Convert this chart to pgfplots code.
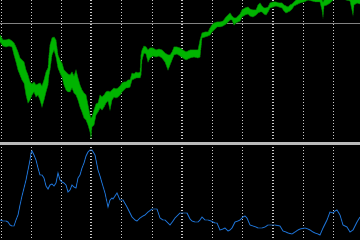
\documentclass[border=0pt]{standalone}
\usepackage{pgfplots}
\usepackage{pgfplotstable}
\pgfplotsset{compat=1.18}
\usepgfplotslibrary{fillbetween}
\definecolor{pgreen}{RGB}{0,180,0}
\definecolor{dgreen}{RGB}{0,120,0}
\definecolor{iblue}{RGB}{28,108,200}
\definecolor{gridc}{RGB}{200,200,200}
\definecolor{sepc}{RGB}{185,185,185}
\definecolor{hlc}{RGB}{130,130,130}

% price band: x, top (high, pixel units from top), bottom (low)
\pgfplotstableread{
x T B
0 35 42
3 40 46
6 40 47
9 39 46
12 41 47
14 43 55
16 47 62
18 52 70
20 58 75
22 60 80
24 62 83
26 70 95
28 75 103
30 82 100
32 84 95
34 82 92
36 85 97
38 84 95
40 83 100
42 86 107
44 80 100
46 72 92
48 68 85
49 55 75
50 45 70
52 38 55
54 37 50
56 40 57
58 55 68
60 60 73
62 63 77
64 70 85
66 72 90
68 74 92
70 75 92
72 72 88
74 76 93
76 70 95
78 78 100
80 85 107
82 90 112
84 93 118
86 95 120
88 105 125
90 115 132
91 118 138
92 117 127
94 110 125
96 104 115
98 103 112
100 95 108
102 97 110
104 95 107
106 92 103
108 91 101
110 92 110
112 90 100
114 88 97
116 89 98
118 88 97
120 86 95
122 83 92
124 82 90
126 82 88
128 80 88
130 80 87
132 73 80
134 74 79
136 72 78
138 73 78
140 72 78
141 55 75
142 50 60
144 46 53
146 47 54
148 50 62
150 48 58
153 48 56
156 50 57
159 49 56
162 50 58
165 53 62
168 55 70
170 55 65
172 52 60
174 47 55
177 47 54
180 48 56
183 50 58
186 52 60
190 50 58
194 50 57
198 50 58
200 40 57
202 33 38
205 32 37
208 32 36
210 28 35
212 25 32
214 23 30
217 22 27
220 22 27
223 21 26
226 17 24
228 15 22
230 13 20
232 16 20
234 18 25
236 18 23
238 16 22
240 14 21
242 10 17
245 8 15
248 7 14
250 9 16
253 10 17
256 10 15
258 5 13
260 3 12
262 6 12
264 8 14
266 8 15
268 7 12
270 3 8
273 2 7
276 2 6
279 3 7
282 3 8
284 5 11
286 6 13
288 7 12
290 5 11
292 4 9
294 2 6
296 0 5
300 -2 3
304 -3 2
308 -5 0
312 -5 1
316 -4 2
320 -3 2
322 0 10
323 2 17
324 0 6
327 -1 5
330 -2 3
334 -6 -1
340 -8 -3
346 -5 0
350 -5 1
352 -2 10
353 0 15
354 -1 5
357 -2 3
360 -1 4
}\pricetable

% indicator (pixel units from top)
\pgfplotstableread{
x y
0 220
3 221
6 221
8 222
10 225
12 226
14 226
16 220
18 215
20 205
22 196
24 188
26 180
28 170
30 160
31 153
32 151
34 155
36 160
38 168
40 175
42 175
44 178
46 186
48 189
50 185
52 184
54 186
56 183
58 173
60 180
62 182
64 183
66 185
68 192
70 190
72 185
74 187
76 188
78 178
80 175
82 168
84 163
86 156
88 152
90 150
92 150
95 155
98 170
100 176
102 183
105 193
108 207
110 200
112 198
113 199
115 196
117 193
120 200
123 200
127 207
130 213
132 217
135 220
137 221
140 218
143 216
145 215
148 212
152 209
155 209
157 209
160 218
163 220
165 220
168 223
170 225
173 221
175 218
178 215
180 213
184 213
187 213
188 215
190 219
192 221
195 222
198 222
200 220
202 217
205 220
208 220
211 221
213 222
215 223
217 223
220 230
223 229
225 228
228 231
230 230
232 228
235 222
238 221
240 220
243 217
245 216
247 218
250 225
253 226
256 227
258 228
262 228
265 227
268 225
270 225
275 225
280 226
283 231
286 232
288 233
292 234
295 232
298 230
300 229
305 228
308 229
310 230
313 232
315 233
318 234
320 235
323 228
325 224
327 220
330 212
333 213
335 211
337 210
340 215
343 225
347 227
350 232
353 230
355 226
357 222
360 217
}\indtable

\begin{document}
\begin{tikzpicture}
\fill[black] (0,0) rectangle (360bp,240bp);
\begin{axis}[
  at={(0,0)}, anchor=south west,
  scale only axis, width=360bp, height=240bp,
  xmin=0, xmax=360, ymin=0, ymax=240, y dir=reverse,
  axis lines=none, clip=true,
  fill between/on layer=main,
]
% vertical dashed grid lines
\pgfplotsinvokeforeach{1,31,61,121,152,212,242,303,333}{
  \draw[gridc, line width=0.8bp, dash pattern=on 1.5bp off 1.5bp] (axis cs:#1,0) -- (axis cs:#1,240);
}
\pgfplotsinvokeforeach{91,182,273}{
  \draw[gridc, line width=1.3bp, dash pattern=on 1.5bp off 1.5bp] (axis cs:#1,0) -- (axis cs:#1,240);
}
% horizontal level line
\draw[hlc, line width=1bp] (axis cs:0,23.5) -- (axis cs:360,23.5);
% price band
\addplot[name path=hi, draw=none] table[x=x, y=T] {\pricetable};
\addplot[name path=lo, draw=none] table[x=x, y=B] {\pricetable};
\addplot[fill=pgreen, draw=none] fill between[of=hi and lo];
\addplot[dgreen, line width=0.5bp] table[x=x, y=T] {\pricetable};
\addplot[dgreen, line width=0.5bp] table[x=x, y=B] {\pricetable};
% separator
\fill[black] (axis cs:0,141) rectangle (axis cs:360,147);
\draw[sepc, line width=2.5bp] (axis cs:0,143.5) -- (axis cs:360,143.5);
% indicator line
\addplot[iblue, line width=0.9bp] table[x=x, y=y] {\indtable};
\end{axis}
\end{tikzpicture}
\end{document}
